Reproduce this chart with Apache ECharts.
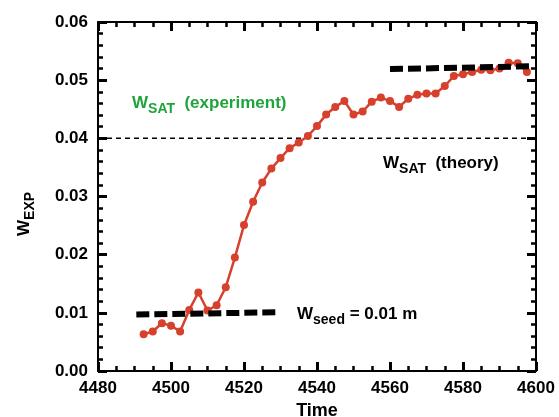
<!DOCTYPE html>
<html>
<head>
<meta charset="utf-8">
<script src="https://cdn.jsdelivr.net/npm/echarts@6/dist/echarts.min.js"></script>
<style>
html, body { margin: 0; padding: 0; background: #fff; }
#main { width: 559px; height: 417px; }
</style>
</head>
<body>
<div id="main"></div>
<script>
// measured island width vs time
var time = [
  4492.5, 4495, 4497.5, 4500, 4502.5, 4505, 4507.5, 4510, 4512.5, 4515,
  4517.5, 4520, 4522.5, 4525, 4527.5, 4530, 4532.5, 4535, 4537.5, 4540,
  4542.5, 4545, 4547.5, 4550, 4552.5, 4555, 4557.5, 4560, 4562.5, 4565,
  4567.5, 4570, 4572.5, 4575, 4577.5, 4580, 4582.5, 4585, 4587.5, 4590,
  4592.5, 4595, 4597.5
];
var wExp = [
  0.0063, 0.0068, 0.0082, 0.0078, 0.0068, 0.0105, 0.0135, 0.0104, 0.0113, 0.0144,
  0.0195, 0.0251, 0.0291, 0.0324, 0.0348, 0.0366, 0.0383, 0.0393, 0.0404, 0.0421,
  0.0441, 0.0454, 0.0464, 0.0441, 0.0446, 0.0463, 0.0470, 0.0464, 0.0454, 0.0468,
  0.0475, 0.0477, 0.0477, 0.0490, 0.0507, 0.0510, 0.0514, 0.0518, 0.0517, 0.0520,
  0.0530, 0.0529, 0.0514
];
// seed width line
var seedTime = [4490.5, 4529.5];
var seedW = [0.0097, 0.0101];
// theory saturated width (upper black dashes)
var theoryTime = [4560, 4599];
var theoryW = [0.0519, 0.0524];
// thin dashed reference at 0.04
var refTime = [4480, 4600];
var refW = [0.04, 0.04];

function pairs(xs, ys) {
  var out = [];
  for (var i = 0; i < xs.length; i++) out.push([xs[i], ys[i]]);
  return out;
}

var FONT = '"Liberation Sans", Arial, sans-serif';

var chart = echarts.init(document.getElementById('main'));

var axisLine = { show: true, onZero: false, lineStyle: { color: '#000', width: 2 } };
var axisTick = { show: true, inside: true, length: 9, lineStyle: { color: '#000', width: 3 } };
var minorTick = { show: true, length: 5, lineStyle: { color: '#000', width: 2.5 } };
var labelStyle = { color: '#000', fontSize: 17, fontWeight: 'bold', fontFamily: FONT };

function richText(color) {
  return {
    w: { fontSize: 17, fontWeight: 'bold', fontFamily: FONT, lineHeight: 26, fill: color },
    sub: { fontSize: 14, fontWeight: 'bold', fontFamily: FONT, lineHeight: 14, verticalAlign: 'bottom', fill: color }
  };
}

chart.setOption({
  animation: false,
  grid: { left: 98, right: 23, top: 22, bottom: 46, containLabel: false, outerBoundsMode: 'none' },
  xAxis: [
    {
      type: 'value', min: 4480, max: 4600, interval: 20,
      name: 'Time', nameLocation: 'middle', nameGap: 29,
      nameTextStyle: { color: '#000', fontSize: 18, fontWeight: 'bold', fontFamily: FONT },
      axisLine: axisLine, axisTick: axisTick,
      minorTick: Object.assign({ splitNumber: 4 }, minorTick),
      axisLabel: Object.assign({ margin: 9, formatter: function (v) { return String(v); } }, labelStyle),
      splitLine: { show: false }
    },
    {
      type: 'value', position: 'top', min: 4480, max: 4600, interval: 20,
      axisLine: axisLine, axisTick: axisTick,
      minorTick: Object.assign({ splitNumber: 4 }, minorTick),
      axisLabel: { show: false }, splitLine: { show: false }
    }
  ],
  yAxis: [
    {
      type: 'value', min: 0, max: 0.06, interval: 0.01,
      axisLine: axisLine, axisTick: axisTick,
      minorTick: Object.assign({ splitNumber: 5 }, minorTick),
      axisLabel: Object.assign({ margin: 10, formatter: function (v) { return v.toFixed(2); } }, labelStyle),
      splitLine: { show: false }
    },
    {
      type: 'value', position: 'right', min: 0, max: 0.06, interval: 0.01,
      axisLine: axisLine, axisTick: axisTick,
      minorTick: Object.assign({ splitNumber: 5 }, minorTick),
      axisLabel: { show: false }, splitLine: { show: false }
    }
  ],
  series: [
    {
      type: 'line', data: pairs(refTime, refW), symbol: 'none',
      lineStyle: { color: '#000', width: 1.5, type: [5, 4] }, z: 1
    },
    {
      type: 'line', data: pairs(time, wExp), symbol: 'circle', symbolSize: 8,
      itemStyle: { color: '#d6402c' },
      lineStyle: { color: '#d6402c', width: 2.5 }, z: 2
    },
    {
      type: 'line', data: pairs(seedTime, seedW), symbol: 'none',
      lineStyle: { color: '#000', width: 6, type: [13, 5], cap: 'butt' }, z: 3
    },
    {
      type: 'line', data: pairs(theoryTime, theoryW), symbol: 'none',
      lineStyle: { color: '#000', width: 6, type: [13, 5], cap: 'butt' }, z: 3
    }
  ],
  graphic: [
    {
      type: 'text', x: 132, y: 90,
      style: { text: '{w|W}{sub|SAT}{w|  (experiment)}', rich: richText('#1fa33b'), textVerticalAlign: 'top' }
    },
    {
      type: 'text', x: 383, y: 150,
      style: { text: '{w|W}{sub|SAT}{w|  (theory)}', rich: richText('#000'), textVerticalAlign: 'top' }
    },
    {
      type: 'text', x: 297, y: 301,
      style: { text: '{w|W}{sub|seed}{w| = 0.01 m}', rich: richText('#000'), textVerticalAlign: 'top' }
    },
    {
      type: 'text', x: 11, y: 236, rotation: Math.PI / 2,
      style: { text: '{w|W}{sub|EXP}', rich: richText('#000'), textVerticalAlign: 'top' }
    }
  ]
});
</script>
</body>
</html>
